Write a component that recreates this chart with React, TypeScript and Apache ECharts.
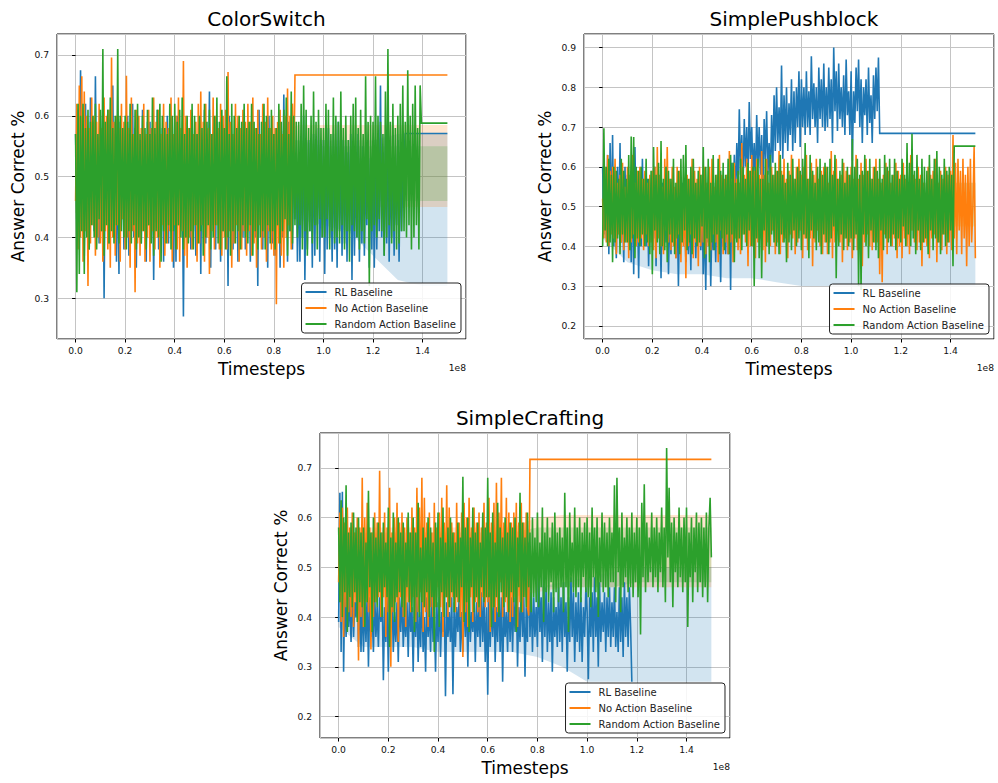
import React, { useEffect, useRef } from "react";
import * as echarts from "echarts";

const FONT = "DejaVu Sans";
const STEP = 0.005; // sample spacing, in units of 1e8 timesteps
const SERIES_NAMES = ["RL Baseline", "No Action Baseline", "Random Action Baseline"];
const COLORS = ["#1f77b4", "#ff7f0e", "#2ca02c"];
const BAND_COLORS = ["rgba(31,119,180,0.2)", "rgba(255,127,14,0.2)", "rgba(44,160,44,0.2)"];
const TITLES = ["ColorSwitch", "SimplePushblock", "SimpleCrafting"];
const BAND_X = [0, 0.1, 0.2, 0.3, 0.4, 0.5, 0.6, 0.7, 0.8, 0.9, 1.0, 1.1, 1.2, 1.3, 1.4, 1.5];

// ---------- ColorSwitch ----------
const CS_RL = [
  .57,.44,.61,.40,.675,.46,.58,.37,.62,.42,.55,.38,.63,.45,.59,.41,.665,.43,.56,.39,
  .60,.41,.58,.30,.56,.44,.61,.39,.55,.42,.65,.40,.57,.36,.53,.34,.59,.43,.55,.38,
  .56,.41,.60,.37,.57,.44,.62,.40,.58,.35,.54,.42,.56,.39,.61,.43,.55,.36,.59,.42,
  .59,.40,.55,.33,.57,.44,.61,.38,.55,.42,.58,.36,.53,.43,.60,.39,.56,.41,.57,.35,
  .55,.36,.60,.42,.57,.44,.53,.27,.56,.40,.58,.43,.54,.38,.60,.41,.55,.37,.57,.44,
  .59,.34,.56,.43,.61,.39,.54,.45,.64,.35,.57,.42,.55,.38,.59,.44,.53,.36,.58,.41,
  .58,.41,.55,.32,.60,.43,.57,.38,.53,.44,.56,.36,.59,.42,.54,.40,.57,.38,.55,.42,
  .56,.36,.59,.44,.55,.40,.58,.32,.61,.43,.54,.38,.57,.42,.55,.35,.60,.41,.56,.39,
  .57,.37,.55,.42,.58,.35,.54,.40,.635,.44,.56,.36,.59,.41,.55,.38,.57,.43,.54,.36,
  .52,.36,.55,.40,.60,.33,.51,.38,.56,.41,.53,.35,.57,.37,.54,.42,.58,.36,.52,.40,
  .56,.34,.55,.38,.58,.40,.52,.36,.57,.38,.54,.35,.59,.41,.53,.37,.56,.39,.55,.36,
  .54,.41,.57,.33,.55,.37,.52,.40,.57,.36,.53,.39,.55,.37,.51,.42,.56,.35,.53,.38,
  .55,.35,.56,.38,.52,.41,.65,.40,.54,.37,.57,.39,.62,.36,.53,.40,.55,.37,.51,.42,
  .56,.36,.54,.41,.50,
];
const CS_RL_TAIL = [[1.33, 0.571], [1.5, 0.571]];
const CS_NA = [
  .46,.62,.38,.65,.40,.665,.36,.64,.41,.60,.32,.58,.39,.63,.42,.60,.37,.59,.40,.62,
  .39,.58,.36,.63,.41,.60,.38,.61,.35,.696,.40,.59,.37,.60,.42,.58,.36,.62,.43,.59,
  .38,.666,.40,.58,.35,.63,.41,.57,.31,.61,.39,.60,.37,.58,.41,.62,.36,.57,.40,.61,
  .36,.58,.41,.63,.38,.59,.40,.61,.35,.57,.42,.62,.37,.59,.39,.58,.41,.63,.36,.57,
  .42,.60,.38,.63,.36,.58,.41,.69,.37,.60,.35,.58,.40,.61,.38,.57,.42,.59,.36,.62,
  .39,.64,.42,.59,.36,.62,.40,.58,.34,.57,.41,.63,.38,.60,.42,.58,.38,.62,.37,.60,
  .40,.61,.38,.672,.41,.59,.35,.57,.39,.62,.42,.60,.36,.58,.38,.61,.41,.59,.37,.62,
  .41,.59,.37,.63,.39,.58,.35,.61,.42,.57,.38,.62,.40,.59,.36,.63,.41,.58,.38,.60,
  .37,.58,.29,.59,.39,.61,.37,.57,.35,.60,.40,.645,.42,.60,.38,.62,.48,
];
const CS_NA_TAIL = [[0.885, 0.667], [1.5, 0.667]];
const CS_RA = [
  .57,.31,.62,.34,.60,.41,.62,.34,.58,.40,.61,.38,.59,.42,.60,.40,.62,.38,.57,.43,
  .61,.41,.71,.37,.59,.42,.61,.39,.63,.41,.58,.39,.60,.42,.71,.39,.60,.41,.58,.40,
  .60,.38,.59,.41,.62,.39,.57,.42,.61,.38,.62,.40,.57,.39,.60,.41,.58,.38,.61,.42,
  .57,.39,.63,.37,.58,.41,.61,.40,.62,.36,.60,.41,.58,.39,.57,.42,.62,.38,.60,.41,
  .62,.38,.59,.42,.61,.40,.63,.38,.57,.40,.60,.39,.58,.41,.62,.38,.60,.42,.57,.39,
  .60,.41,.58,.37,.62,.40,.59,.42,.61,.38,.57,.40,.60,.42,.63,.39,.59,.38,.61,.41,
  .58,.38,.665,.40,.57,.37,.62,.41,.60,.39,.58,.41,.60,.38,.59,.42,.62,.40,.58,.39,
  .59,.42,.62,.37,.59,.41,.58,.38,.57,.40,.59,.41,.62,.38,.60,.42,.58,.39,.61,.41,
  .57,.38,.58,.42,.62,.39,.59,.41,.61,.43,.63,.37,.57,.41,.64,.39,.60,.42,.59,.40,
  .59,.42,.62,.38,.65,.41,.61,.37,.58,.41,.60,.39,.64,.42,.59,.38,.61,.43,.58,.40,
  .58,.40,.62,.43,.61,.38,.57,.41,.63,.39,.60,.40,.59,.39,.64,.42,.58,.38,.60,.41,
  .56,.36,.60,.42,.62,.41,.63,.40,.58,.38,.61,.41,.57,.39,.665,.43,.59,.32,.60,.41,
  .59,.42,.665,.40,.60,.43,.59,.41,.57,.37,.64,.40,.71,.42,.59,.39,.62,.41,.58,.38,
  .60,.39,.62,.41,.65,.41,.59,.40,.675,.42,.60,.38,.62,.40,.65,.42,.58,.38,.65,
];
const CS_RA_TAIL = [[1.395, 0.588], [1.5, 0.588]];
const CS_RL_LO = [.43,.43,.43,.43,.43,.43,.43,.43,.43,.43,.42,.41,.37,.33,.32,.32];
const CS_RL_HI = [.56,.56,.56,.56,.56,.56,.56,.56,.56,.56,.56,.56,.56,.57,.57,.57];
const CS_NA_LO = [.44,.44,.44,.44,.44,.44,.44,.44,.45,.45,.45,.45,.45,.45,.45,.45];
const CS_NA_HI = [.56,.56,.56,.56,.56,.56,.56,.56,.57,.585,.585,.585,.585,.585,.585,.585];
const CS_RA_LO = [.44,.44,.44,.44,.44,.44,.44,.44,.44,.44,.45,.45,.46,.46,.46,.46];
const CS_RA_HI = [.56,.56,.56,.56,.56,.56,.56,.56,.56,.56,.55,.55,.55,.55,.55,.55];

// ---------- SimplePushblock ----------
const SP_RL = [
  .60,.43,.58,.42,.63,.38,.66,.45,.68,.40,.57,.37,.60,.44,.66,.41,.55,.36,.60,.43,
  .58,.41,.55,.36,.60,.33,.65,.44,.52,.32,.57,.40,.62,.45,.55,.40,.57,.35,.52,.43,
  .57,.42,.60,.35,.55,.43,.52,.32,.56,.39,.53,.41,.55,.33,.49,.38,.56,.42,.53,.37,
  .50,.30,.52,.40,.56,.42,.50,.36,.48,.38,.51,.34,.58,.44,.53,.37,.54,.42,.50,.39,
  .50,.33,.47,.29,.55,.41,.52,.30,.47,.39,.50,.36,.53,.42,.48,.31,.55,.40,.49,.38,
  .52,.38,.58,.29,.61,.50,.63,.52,.66,.55,.745,.58,.68,.55,.72,.60,.70,.56,.763,.62,
  .70,.58,.66,.55,.73,.60,.70,.58,.68,.52,.72,.62,.74,.58,.66,.56,.73,.61,.78,.64,
  .80,.66,.75,.64,.855,.62,.78,.66,.80,.64,.76,.68,.82,.64,.79,.66,.80,.70,.84,.65,
  .82,.70,.80,.68,.84,.70,.79,.68,.878,.72,.81,.70,.80,.66,.85,.72,.82,.70,.86,.69,
  .80,.70,.85,.72,.82,.66,.90,.74,.84,.69,.86,.72,.80,.70,.83,.68,.87,.73,.79,.68,
  .84,.616,.79,.71,.85,.74,.87,.70,.82,.66,.80,.73,.82,.68,.85,.71,.78,.66,.83,.72,
  .85,.74,.875,
];
const SP_RL_TAIL = [[1.115, 0.684], [1.5, 0.684]];
const SP_NA = [
  .52,.42,.60,.41,.63,.40,.59,.43,.60,.42,.62,.38,.56,.43,.58,.41,.61,.39,.55,.41,
  .60,.37,.58,.41,.63,.43,.56,.40,.59,.41,.60,.42,.57,.39,.59,.43,.56,.40,.58,.41,
  .59,.39,.60,.37,.65,.42,.58,.40,.55,.38,.62,.44,.65,.41,.57,.39,.60,.40,.55,.37,
  .60,.43,.59,.36,.54,.40,.57,.32,.58,.40,.57,.43,.62,.37,.59,.41,.57,.35,.60,.40,
  .58,.41,.60,.38,.56,.40,.60,.39,.62,.43,.55,.41,.58,.36,.63,.44,.58,.38,.57,.41,
  .58,.38,.64,.41,.57,.36,.61,.42,.57,.39,.56,.38,.66,.43,.58,.41,.62,.35,.59,.40,
  .63,.40,.59,.37,.62,.41,.58,.42,.64,.39,.58,.36,.62,.41,.56,.40,.60,.44,.58,.38,
  .59,.41,.64,.38,.59,.41,.62,.42,.57,.37,.59,.43,.63,.42,.57,.38,.60,.41,.62,.44,
  .58,.37,.60,.42,.63,.39,.57,.42,.61,.35,.58,.41,.62,.44,.57,.40,.59,.38,.60,.41,
  .60,.38,.56,.41,.64,.37,.59,.41,.62,.45,.57,.41,.58,.36,.61,.42,.59,.39,.58,.41,
  .60,.37,.57,.42,.63,.39,.57,.42,.61,.35,.58,.41,.62,.43,.59,.40,.57,.39,.60,.41,
  .62,.41,.57,.33,.56,.31,.58,.43,.61,.38,.59,.42,.56,.40,.58,.42,.61,.37,.59,.40,
  .58,.37,.61,.42,.57,.40,.55,.38,.63,.44,.58,.41,.57,.39,.60,.41,.58,.35,.56,.41,
  .53,.40,.60,.37,.58,.42,.59,.43,.62,.36,.56,.41,.59,.39,.57,.43,.60,.38,.58,.41,
  .59,.39,.68,.42,.61,.38,.62,.44,.59,.38,.62,.42,.58,.35,.60,.40,.62,.41,.50,.65,
  .37,
];
const SP_RA = [
  .40,.697,.44,.60,.40,.62,.41,.58,.36,.60,.41,.59,.42,.57,.38,.62,.43,.59,.41,.57,
  .41,.63,.39,.676,.42,.675,.37,.60,.42,.59,.40,.60,.43,.57,.40,.62,.41,.57,.38,.59,
  .33,.65,.44,.58,.41,.61,.38,.665,.40,.57,.39,.60,.36,.59,.43,.57,.41,.62,.38,.56,
  .42,.59,.38,.62,.41,.63,.44,.655,.39,.57,.41,.60,.38,.62,.42,.56,.40,.59,.41,.58,
  .45,.65,.37,.60,.42,.62,.36,.56,.41,.63,.39,.58,.43,.62,.38,.59,.42,.61,.39,.58,
  .43,.62,.38,.63,.43,.61,.36,.56,.41,.59,.42,.62,.39,.60,.43,.57,.40,.61,.44,.59,
  .40,.60,.30,.60,.42,.62,.37,.57,.32,.57,.44,.62,.40,.59,.38,.63,.43,.58,.41,.61,
  .40,.59,.38,.63,.43,.58,.41,.56,.36,.61,.41,.58,.39,.62,.44,.57,.40,.60,.42,.59,
  .39,.62,.43,.66,.42,.57,.37,.63,.44,.59,.42,.56,.39,.60,.41,.62,.38,.58,.43,.61,
  .41,.60,.38,.62,.42,.58,.45,.63,.32,.57,.40,.59,.43,.62,.39,.56,.42,.60,.40,.58,
  .42,.67,.39,.60,.43,.62,.30,.58,.29,.59,.43,.63,.40,.59,.37,.62,.44,.57,.41,.60,
  .39,.59,.37,.62,.44,.57,.39,.63,.42,.60,.41,.62,.40,.58,.43,.62,.39,.59,.42,.57,
  .41,.62,.45,.58,.40,.66,.43,.61,.40,.683,.42,.59,.38,.63,.44,.57,.39,.62,.41,.60,
  .42,.59,.38,.63,.44,.57,.39,.62,.42,.64,.41,.60,.38,.58,.43,.62,.40,.59,.41,.60,
  .44,.58,.35,
];
const SP_RA_TAIL = [[1.415, 0.652], [1.5, 0.652]];
const SP_RL_LO = [.42,.36,.34,.33,.33,.32,.32,.31,.30,.30,.30,.30,.30,.30,.30,.30];
const SP_RL_HI = [.56,.48,.47,.46,.46,.46,.46,.46,.46,.46,.46,.45,.45,.45,.45,.45];
const SP_NA_LO = [.44,.44,.44,.44,.44,.44,.44,.44,.44,.44,.44,.44,.44,.44,.45,.45];
const SP_NA_HI = [.56,.56,.56,.56,.56,.56,.56,.56,.56,.56,.56,.56,.56,.56,.56,.56];
const SP_RA_LO = [.44,.44,.44,.44,.44,.44,.44,.44,.44,.44,.44,.44,.44,.44,.45,.45];
const SP_RA_HI = [.56,.56,.56,.56,.56,.56,.56,.56,.56,.56,.56,.56,.56,.56,.56,.56];

// ---------- SimpleCrafting ----------
const SC_RL = [
  .39,.65,.33,.652,.29,.47,.36,.45,.38,.44,.35,.46,.36,.43,.40,.48,.34,.45,.33,.44,
  .33,.43,.35,.45,.30,.44,.36,.41,.33,.45,.36,.42,.34,.44,.39,.46,.273,.42,.35,.44,
  .29,.42,.38,.45,.33,.41,.35,.43,.31,.44,.37,.45,.34,.41,.36,.43,.32,.44,.37,.42,
  .29,.44,.36,.45,.31,.41,.34,.46,.33,.40,.29,.44,.36,.42,.33,.45,.35,.41,.29,.43,
  .35,.44,.32,.41,.37,.45,.241,.43,.36,.41,.35,.44,.245,.43,.34,.42,.37,.44,.33,.41,
  .33,.45,.36,.44,.30,.46,.35,.41,.37,.44,.31,.43,.36,.42,.34,.45,.35,.44,.31,.42,
  .244,.45,.34,.43,.36,.45,.31,.42,.35,.46,.33,.44,.27,.43,.36,.41,.33,.45,.35,.44,
  .33,.44,.37,.45,.30,.42,.35,.47,.36,.44,.28,.42,.35,.55,.36,.45,.33,.44,.36,.42,
  .34,.50,.37,.44,.31,.48,.36,.46,.33,.43,.35,.45,.29,.44,.36,.42,.34,.46,.35,.44,
  .33,.47,.36,.43,.29,.44,.35,.48,.36,.45,.31,.43,.35,.45,.33,.44,.31,.42,.36,.46,
  .41,.275,.44,.36,.45,.33,.48,.36,.44,.30,.47,.35,.43,.37,.45,.33,.44,.36,.46,.34,
  .43,.36,.46,.34,.41,.33,.46,.35,.44,.32,.47,.36,.44,.34,.46,.38,.27,
];
const SC_NA = [
  .47,.61,.39,.62,.36,.59,.42,.62,.41,.58,.40,.61,.38,.57,.43,.60,.313,.58,.40,.68,
  .38,.60,.43,.63,.41,.58,.335,.57,.40,.61,.43,.59,.44,.694,.40,.57,.44,.61,.36,.58,
  .41,.66,.30,.57,.41,.60,.43,.63,.35,.59,.44,.61,.40,.58,.38,.60,.43,.57,.41,.62,
  .44,.58,.39,.66,.41,.62,.45,.68,.37,.64,.41,.59,.38,.61,.42,.57,.40,.63,.42,.58,
  .46,.61,.42,.64,.36,.59,.44,.665,.40,.62,.42,.59,.44,.57,.41,.63,.43,.59,.40,.61,
  .32,.63,.41,.60,.38,.64,.44,.58,.39,.62,.43,.59,.41,.61,.40,.58,.44,.63,.42,.59,
  .43,.64,.37,.59,.42,.63,.39,.67,.41,.61,.47,.68,.40,.59,.43,.64,.41,.61,.39,.59,
  .40,.61,.44,.63,.38,.59,.43,.63,.41,.59,.44,.61,.42,
];
const SC_NA_TAIL = [[0.765, 0.403], [0.77, 0.717], [1.5, 0.717]];
const SC_RA = [
  .58,.43,.635,.40,.60,.45,.665,.37,.57,.44,.59,.42,.61,.45,.58,.39,.60,.43,.57,.42,
  .58,.38,.55,.43,.654,.46,.57,.37,.60,.43,.56,.42,.59,.45,.57,.40,.59,.46,.55,.44,
  .62,.34,.56,.42,.61,.39,.55,.44,.60,.45,.57,.42,.59,.40,.55,.46,.61,.43,.57,.41,
  .60,.37,.57,.44,.63,.40,.54,.43,.58,.42,.56,.45,.60,.40,.58,.44,.55,.33,.59,.42,
  .61,.38,.56,.45,.62,.40,.55,.44,.58,.42,.60,.45,.57,.41,.55,.44,.59,.43,.56,.46,
  .682,.39,.58,.43,.60,.37,.56,.46,.62,.41,.57,.44,.59,.42,.55,.46,.61,.43,.58,.44,
  .68,.44,.57,.38,.61,.42,.55,.44,.63,.40,.58,.45,.56,.42,.60,.44,.57,.41,.59,.45,
  .58,.43,.60,.37,.56,.46,.65,.41,.59,.44,.56,.42,.61,.46,.57,.41,.60,.44,.56,.43,
  .61,.42,.55,.46,.62,.39,.57,.45,.60,.43,.56,.47,.59,.41,.61,.45,.57,.43,.58,.46,
  .56,.41,.65,.46,.58,.37,.61,.47,.55,.45,.62,.44,.58,.46,.60,.43,.57,.48,.59,.45,
  .60,.44,.57,.42,.62,.48,.58,.45,.60,.40,.56,.47,.61,.45,.59,.46,.57,.44,.60,.47,
  .57,.47,.665,.43,.68,.49,.58,.41,.61,.46,.56,.48,.60,.45,.58,.46,.61,.44,.57,.47,
  .60,.44,.58,.365,.63,.48,.667,.45,.59,.47,.56,.49,.61,.46,.58,.48,.60,.45,.57,.49,
  .62,.46,.58,.43,.74,.52,.66,.47,.59,.42,.60,.49,.57,.46,.62,.48,.58,.45,.60,.47,
  .62,.38,.57,.48,.60,.43,.58,.49,.61,.45,.59,.47,.60,.44,.58,.46,.61,.43,.58,.64,
  .52,
];
const SC_RL_LO = [.38,.34,.34,.34,.33,.33,.33,.33,.32,.30,.27,.27,.27,.27,.27,.27];
const SC_RL_HI = [.46,.45,.45,.45,.45,.45,.45,.45,.46,.47,.48,.49,.50,.50,.50,.50];
const SC_NA_LO = [.44,.44,.44,.44,.44,.44,.44,.44,.45,.46,.46,.46,.46,.46,.46,.46];
const SC_NA_HI = [.58,.58,.58,.58,.58,.58,.58,.58,.60,.605,.605,.605,.605,.605,.605,.605];
const SC_RA_LO = [.45,.45,.45,.45,.45,.45,.45,.45,.46,.46,.46,.46,.47,.47,.47,.47];
const SC_RA_HI = [.57,.57,.57,.57,.57,.57,.57,.57,.58,.58,.58,.58,.58,.58,.58,.58];

const Y_RANGES = [[0.233, 0.7345], [0.167, 0.934], [0.157, 0.77]];
const X_RANGE = [-0.075, 1.575];

const GRIDS = [
  { left: 57, top: 34, width: 409, height: 305 },
  { left: 584, top: 34, width: 410, height: 305 },
  { left: 320, top: 433, width: 410, height: 305 },
];
const LEGEND_POS = [
  { right: 537, top: 283 },
  { right: 9, top: 284 },
  { right: 273, top: 683 },
];

const toPts = (vals: number[], tail: number[][] = []) =>
  vals.map((v, i) => [Number((i * STEP).toFixed(3)), v]).concat(tail);

const LEGEND_ICON = "path://M0,0 M24,12 M0,5 L21,5 L21,7 L0,7 Z";

function bandSeries(g: number, lo: number[], hi: number[], fill: string) {
  return {
    type: "custom",
    xAxisIndex: g,
    yAxisIndex: g,
    silent: true,
    z: 1,
    clip: true,
    data: [[BAND_X[0], lo[0]]],
    encode: { x: 0, y: 1 },
    renderItem: (_params: any, api: any) => {
      const pts: number[][] = [];
      for (let i = 0; i < BAND_X.length; i++) pts.push(api.coord([BAND_X[i], lo[i]]));
      for (let i = BAND_X.length - 1; i >= 0; i--) pts.push(api.coord([BAND_X[i], hi[i]]));
      return { type: "polygon", shape: { points: pts }, style: { fill, stroke: "none" } };
    },
  };
}

function lineSeries(g: number, idx: number, pts: number[][]) {
  return {
    type: "line",
    name: SERIES_NAMES[idx],
    xAxisIndex: g,
    yAxisIndex: g,
    data: pts,
    symbol: "none",
    showSymbol: false,
    silent: true,
    z: 2,
    color: COLORS[idx],
    lineStyle: { width: 1.6, color: COLORS[idx], join: "miter", miterLimit: 2 },
    itemStyle: { color: COLORS[idx] },
  };
}

export default function App() {
  const ref = useRef<HTMLDivElement>(null);
  useEffect(() => {
    if (!ref.current) return;
    const chart = echarts.init(ref.current, null, { renderer: "svg" });

    const bands = [
      [[CS_RL_LO, CS_RL_HI], [CS_NA_LO, CS_NA_HI], [CS_RA_LO, CS_RA_HI]],
      [[SP_RL_LO, SP_RL_HI], [SP_NA_LO, SP_NA_HI], [SP_RA_LO, SP_RA_HI]],
      [[SC_RL_LO, SC_RL_HI], [SC_NA_LO, SC_NA_HI], [SC_RA_LO, SC_RA_HI]],
    ];
    const lines = [
      [toPts(CS_RL, CS_RL_TAIL), toPts(CS_NA, CS_NA_TAIL), toPts(CS_RA, CS_RA_TAIL)],
      [toPts(SP_RL, SP_RL_TAIL), toPts(SP_NA), toPts(SP_RA, SP_RA_TAIL)],
      [toPts(SC_RL), toPts(SC_NA, SC_NA_TAIL), toPts(SC_RA)],
    ];

    const series: any[] = [];
    for (let g = 0; g < 3; g++) {
      for (let s = 0; s < 3; s++) series.push(bandSeries(g, bands[g][s][0], bands[g][s][1], BAND_COLORS[s]));
    }
    for (let g = 0; g < 3; g++) {
      for (let s = 0; s < 3; s++) series.push(lineSeries(g, s, lines[g][s]));
    }

    const tickLabel = { fontFamily: FONT, fontSize: 9.2, color: "#111" };
    const xAxes = GRIDS.map((_, g) => ({
      type: "value",
      gridIndex: g,
      min: X_RANGE[0],
      max: X_RANGE[1],
      minInterval: 0.2,
      maxInterval: 0.2,
      name: "Timesteps",
      nameLocation: "middle",
      nameGap: 21,
      nameTextStyle: { fontFamily: FONT, fontSize: 17, color: "#000" },
      axisLine: { show: false },
      axisTick: { show: true, inside: false, length: 3.5, lineStyle: { color: "#000", width: 1 } },
      axisLabel: {
        ...tickLabel,
        margin: 7,
        showMinLabel: false,
        showMaxLabel: false,
        formatter: (v: number) => v.toFixed(1),
      },
      splitLine: { show: true, lineStyle: { color: "#c4c4c4", width: 1 } },
    }));
    const yAxes = GRIDS.map((_, g) => ({
      type: "value",
      gridIndex: g,
      min: Y_RANGES[g][0],
      max: Y_RANGES[g][1],
      minInterval: 0.1,
      maxInterval: 0.1,
      name: "Answer Correct %",
      nameLocation: "middle",
      nameGap: 31,
      nameTextStyle: { fontFamily: FONT, fontSize: 17, color: "#000" },
      axisLine: { show: false },
      axisTick: { show: true, inside: false, length: 3.5, lineStyle: { color: "#000", width: 1 } },
      axisLabel: {
        ...tickLabel,
        margin: 8,
        showMinLabel: false,
        showMaxLabel: false,
        formatter: (v: number) => v.toFixed(1),
      },
      splitLine: { show: true, lineStyle: { color: "#c4c4c4", width: 1 } },
    }));

    const legends = LEGEND_POS.map((p) => ({
      orient: "vertical",
      right: p.right,
      top: p.top,
      itemWidth: 24,
      itemHeight: 12,
      itemGap: 4,
      padding: [3, 5, 3, 4],
      borderColor: "#222",
      borderWidth: 1,
      borderRadius: 3,
      backgroundColor: "rgba(255,255,255,0.85)",
      selectedMode: false,
      textStyle: { fontFamily: FONT, fontSize: 10, color: "#222" },
      data: SERIES_NAMES.map((n, i) => ({
        name: n,
        icon: LEGEND_ICON,
        itemStyle: { color: COLORS[i], borderWidth: 0 },
      })),
    }));

    const titles = TITLES.map((t, g) => ({
      text: t,
      left: GRIDS[g].left + GRIDS[g].width / 2,
      top: GRIDS[g].top - 30,
      textAlign: "center",
      textStyle: { fontFamily: FONT, fontSize: 20, fontWeight: "normal", color: "#000" },
    }));

    const offsetTexts = GRIDS.map((gr) => ({
      type: "text",
      x: gr.left + gr.width,
      y: gr.top + gr.height + 28,
      style: {
        text: "1e8",
        fontFamily: FONT,
        fontSize: 9.2,
        fill: "#111",
        align: "right",
        verticalAlign: "middle",
      },
    }));

    chart.setOption({
      animation: false,
      backgroundColor: "#fff",
      title: titles,
      grid: GRIDS.map((gr) => ({
        ...gr,
        show: true,
        borderColor: "#000",
        borderWidth: 1,
        backgroundColor: "transparent",
        containLabel: false,
      })),
      xAxis: xAxes,
      yAxis: yAxes,
      legend: legends,
      graphic: offsetTexts,
      series,
    });
    return () => chart.dispose();
  }, []);

  return (
    <div
      ref={ref}
      style={{ position: "fixed", left: 0, top: 0, width: 998, height: 783, background: "#fff" }}
    />
  );
}
